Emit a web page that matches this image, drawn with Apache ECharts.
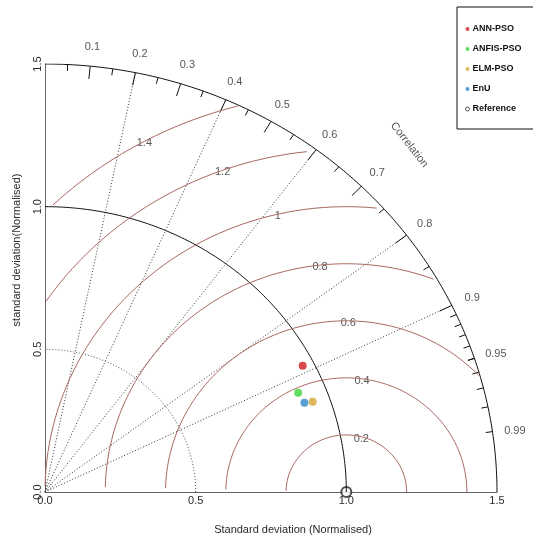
<!DOCTYPE html>
<html>
<head>
<meta charset="utf-8">
<script src="https://cdn.jsdelivr.net/npm/echarts@6/dist/echarts.min.js"></script>
<style>
    html, body { margin: 0; padding: 0; background: #fff; }
    #taylor { width: 533px; height: 540px; }
</style>
</head>
<body>
<div id="taylor"></div>
<script>
// values: normalised std dev and correlation per model
const models = ['ANN-PSO', 'ANFIS-PSO', 'ELM-PSO', 'EnU'];
const modelColors = ['#d01e1e', '#3bd43b', '#d4a536', '#2f86c6'];
const modelSd = [0.963, 0.909, 0.943, 0.916];
const modelCorr = [0.888, 0.924, 0.942, 0.940];

const refSd = 1.0;
const maxSd = 1.5;
const sdTicks = [0, 0.5, 1.0, 1.5];
const sdArcs = [0.5];
const corrLines = [0.2, 0.4, 0.6, 0.8, 0.9];
const corrLabels = [0.1, 0.2, 0.3, 0.4, 0.5, 0.6, 0.7, 0.8, 0.9, 0.95, 0.99];
const bigTicks = [0.1, 0.2, 0.3, 0.4, 0.5, 0.6, 0.7, 0.8, 0.9];
const medTicks = [0.05, 0.15, 0.25, 0.35, 0.45, 0.55, 0.65, 0.75, 0.85, 0.95];
const smallTicks = [0.91, 0.92, 0.93, 0.94, 0.95, 0.96, 0.97, 0.98, 0.99];
const rmsLevels = [0.2, 0.4, 0.6, 0.8, 1.0, 1.2, 1.4];

const FONT = 'Arial, "Liberation Sans", sans-serif';
const textColor = '#2a2a2a';
const rmsColor = '#a86a62';

function arc(r, step) {
    let pts = [];
    for (let t = 0; t <= Math.PI / 2 + 1e-9; t += step) {
        pts.push([r * Math.cos(t), r * Math.sin(t)]);
    }
    pts.push([0, r]);
    return pts;
}

// same sampling as the R taylor.diagram: 0.03 rad, clipped at maxSd and x < 0
function rmsCurve(g) {
    let pts = [];
    for (let i = 0; i * 0.03 <= Math.PI; i++) {
        let t = i * 0.03;
        pts.push([refSd + g * Math.cos(t), g * Math.sin(t)]);
    }
    let end = pts.findIndex(p => p[0] < 0);
    end = end < 0 ? pts.length - 1 : end - 1;
    let start = 0;
    pts.forEach((p, i) => {
        if (p[0] * p[0] + p[1] * p[1] > maxSd * maxSd) start = i + 1;
    });
    return pts.slice(start, end + 1);
}

function rmsLabelPoints() {
    let n = rmsLevels.length;
    return rmsLevels.map((g, k) => {
        let idx = Math.floor(45 + (70 - 45) * k / (n - 1)) - 1;
        let t = idx * 0.03;
        return [refSd + g * Math.cos(t), g * Math.sin(t), g];
    }).filter(p => p[0] > 0);
}

function tickSegments(corrs, len) {
    return corrs.map(c => {
        let s = Math.sqrt(1 - c * c);
        return { coords: [[maxSd * c, maxSd * s], [maxSd * len * c, maxSd * len * s]] };
    });
}

function createTaylorDiagram() {
    let chartDom = document.getElementById('taylor');
    let myChart = echarts.init(chartDom);
    let option;

    let series = [];

    // sd arcs
    series.push({
        type: 'line', data: arc(maxSd, 0.01), showSymbol: false, silent: true,
        lineStyle: { color: '#111', width: 1 }
    });
    series.push({
        type: 'line', data: arc(refSd, 0.01), showSymbol: false, silent: true,
        lineStyle: { color: '#111', width: 1 }
    });
    sdArcs.forEach(r => {
        series.push({
            type: 'line', data: arc(r, 0.03), showSymbol: false, silent: true,
            lineStyle: { color: '#555', width: 1, type: [1, 2] }
        });
    });

    // centred RMS arcs
    rmsLevels.forEach(g => {
        series.push({
            type: 'line', data: rmsCurve(g), showSymbol: false, silent: true,
            lineStyle: { color: rmsColor, width: 1 }
        });
    });

    // correlation rays
    series.push({
        type: 'lines', coordinateSystem: 'cartesian2d', silent: true,
        lineStyle: { color: '#333', width: 1, type: [1, 2], opacity: 1 },
        data: corrLines.map(c => ({ coords: [[0, 0], [maxSd * c, maxSd * Math.sqrt(1 - c * c)]] }))
    });

    // ticks on the outer arc
    series.push({
        type: 'lines', coordinateSystem: 'cartesian2d', silent: true,
        lineStyle: { color: '#111', width: 1, opacity: 1 },
        data: tickSegments(bigTicks, 0.97)
            .concat(tickSegments(medTicks, 0.985))
            .concat(tickSegments(smallTicks, 0.985))
    });

    // RMS labels (boxed, white)
    series.push({
        type: 'scatter', data: rmsLabelPoints(), symbolSize: 1, silent: true,
        itemStyle: { color: 'transparent' },
        label: {
            show: true, position: 'inside', offset: [0, 2],
            formatter: p => String(p.value[2]),
            backgroundColor: '#fff', padding: [1, 2],
            color: textColor, fontSize: 11, fontFamily: FONT
        }
    });

    // correlation labels
    series.push({
        type: 'scatter', clip: false, symbolSize: 1, silent: true,
        itemStyle: { color: 'transparent' },
        data: corrLabels.map(c => [1.05 * maxSd * c, 1.05 * maxSd * Math.sqrt(1 - c * c), c]),
        label: {
            show: true, position: 'inside', offset: [0, 2],
            formatter: p => String(p.value[2]),
            color: textColor, fontSize: 11, fontFamily: FONT
        }
    });
    series.push({
        type: 'scatter', clip: false, symbolSize: 1, silent: true,
        itemStyle: { color: 'transparent' },
        data: [[0.8 * maxSd, 0.8 * maxSd]],
        label: {
            show: true, position: 'inside', formatter: 'Correlation', rotate: -52, offset: [-2, -5],
            color: textColor, fontSize: 11, fontFamily: FONT
        }
    });

    // models
    for (let i = 0; i < models.length; i++) {
        series.push({
            name: models[i],
            type: 'scatter',
            symbol: 'circle',
            symbolSize: 8,
            itemStyle: { color: modelColors[i] },
            data: [[modelSd[i] * modelCorr[i], modelSd[i] * Math.sqrt(1 - modelCorr[i] * modelCorr[i])]]
        });
    }
    series.push({
        name: 'Reference',
        type: 'scatter', clip: false,
        symbol: 'emptyCircle',
        symbolSize: 10,
        itemStyle: { color: '#222', borderWidth: 1 },
        data: [[refSd, 0]]
    });

    let axisCommon = {
        type: 'value',
        min: 0,
        max: maxSd,
        interval: 0.5,
        splitLine: { show: false },
        axisTick: { show: false },
        axisLine: { lineStyle: { color: '#666', width: 1 } }
    };

    option = {
        backgroundColor: '#fff',
        animation: false,
        grid: { left: 45, right: 36, top: 64, bottom: 48 },
        legend: {
            orient: 'vertical',
            left: 457,
            top: 7,
            padding: [16, 24, 14, 8],
            itemWidth: 4,
            itemHeight: 4,
            itemGap: 8,
            borderColor: '#111',
            borderWidth: 1,
            textStyle: { fontSize: 9, fontWeight: 'bold', color: '#111', fontFamily: FONT, lineHeight: 12, padding: [0, 0, 0, -2] },
            data: models.map(m => ({ name: m, icon: 'circle' }))
                .concat([{ name: 'Reference', icon: 'circle', itemStyle: { color: '#fff', borderColor: '#333', borderWidth: 1 } }])
        },
        xAxis: Object.assign({}, axisCommon, {
            axisLabel: { formatter: v => v.toFixed(1), margin: 3, color: textColor, fontSize: 11, fontFamily: FONT }
        }),
        yAxis: Object.assign({}, axisCommon, {
            axisLabel: { formatter: v => v.toFixed(1), margin: 2, rotate: 90, color: textColor, fontSize: 11, fontFamily: FONT }
        }),
        graphic: [
            {
                type: 'text', x: 293, y: 530,
                style: { text: 'Standard deviation (Normalised)', fill: textColor, fontSize: 11, fontFamily: FONT, textAlign: 'center', textVerticalAlign: 'middle' }
            },
            {
                type: 'text', x: 17, y: 250, rotation: Math.PI / 2,
                style: { text: 'standard deviation(Normalised)', fill: textColor, fontSize: 11, fontFamily: FONT, textAlign: 'center', textVerticalAlign: 'middle' }
            }
        ],
        series
    };

    option && myChart.setOption(option);
}

createTaylorDiagram();
</script>
</body>
</html>
